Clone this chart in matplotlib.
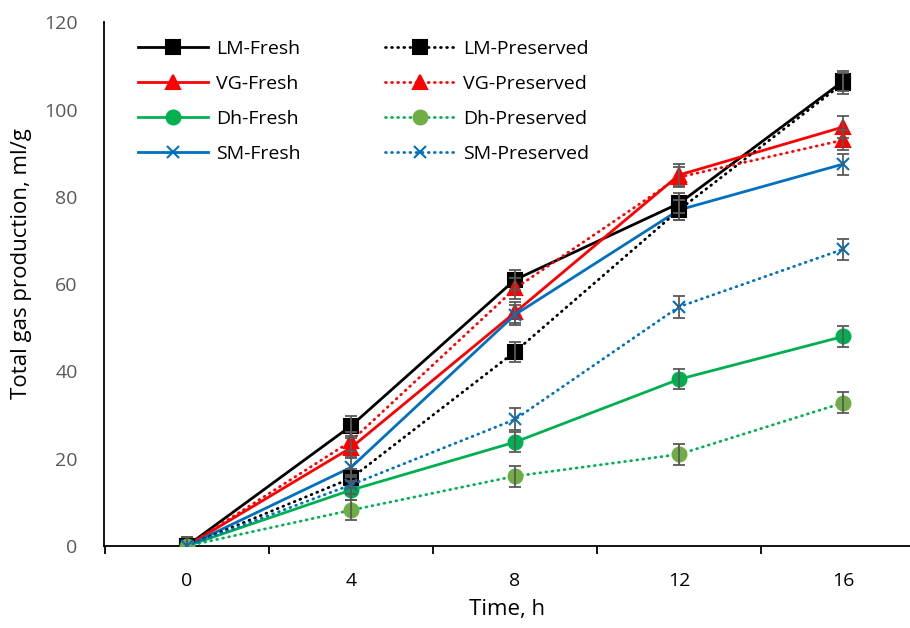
import matplotlib
matplotlib.use('Agg')
from matplotlib import pyplot as plt
from matplotlib.ticker import FixedLocator

plt.rcParams['font.family'] = ['Open Sans', 'DejaVu Sans']

hours = [0, 4, 8, 12, 16]

lm_fresh = [0, 27.5, 61, 78.5, 106.5]
vg_fresh = [0, 22.5, 53.5, 85, 96]
dh_fresh = [0, 12.8, 23.8, 38.2, 48]
sm_fresh = [0, 18, 53, 77, 87.5]

lm_pres = [0, 15.5, 44.5, 77, 106]
vg_pres = [0, 24, 59, 84.5, 93]
dh_pres = [0, 8.2, 16, 21, 32.8]
sm_pres = [0, 14, 29, 54.8, 68]

lm_fresh_err = [2, 2.3, 2.3, 2.3, 2.3]
vg_fresh_err = [2, 2.2, 2.3, 2.5, 2.5]
dh_fresh_err = [2, 2.2, 2.3, 2.3, 2.4]
sm_fresh_err = [2, 2.2, 2.3, 2.3, 2.4]
lm_pres_err = [2, 2.2, 2.3, 2.3, 2.4]
vg_pres_err = [2, 2.2, 2.3, 2.3, 2.3]
dh_pres_err = [2, 2.3, 2.4, 2.4, 2.4]
sm_pres_err = [2, 2.2, 2.5, 2.5, 2.4]

fig = plt.figure(figsize=(9.1, 6.28), dpi=100)
ax = fig.add_axes([0.1143, 0.1306, 0.8857, 0.834])

err_kw = dict(fmt='none', ecolor='#595959', elinewidth=1.3, capsize=4.5, capthick=1.3, zorder=4)
dots = (0, (0.3, 1.9))

series = [
    (lm_fresh, lm_fresh_err, 'LM-Fresh', '-', 'black', 's', 'black'),
    (vg_fresh, vg_fresh_err, 'VG-Fresh', '-', '#FF0000', '^', '#FF0000'),
    (dh_fresh, dh_fresh_err, 'Dh-Fresh', '-', '#00B050', 'o', '#00B050'),
    (sm_fresh, sm_fresh_err, 'SM-Fresh', '-', '#0070C0', 'x', '#0070C0'),
    (lm_pres, lm_pres_err, 'LM-Preserved', dots, 'black', 's', 'black'),
    (vg_pres, vg_pres_err, 'VG-Preserved', dots, '#FF0000', '^', '#FF0000'),
    (dh_pres, dh_pres_err, 'Dh-Preserved', dots, '#00B050', 'o', '#70AD47'),
    (sm_pres, sm_pres_err, 'SM-Preserved', dots, '#0070C0', 'x', '#0070C0'),
]

for vals, err, label, ls, color, marker, mcolor in series:
    ax.errorbar(hours, vals, yerr=err, **err_kw)
    ms = 9 if marker == 'x' else 10
    ax.plot(hours, vals, linestyle=ls, color=color, lw=2, marker=marker,
            markersize=ms, markerfacecolor=mcolor, markeredgecolor=mcolor,
            markeredgewidth=1.5, label=label, zorder=3,
            dash_capstyle='round')

ax.set_xlim(-2.02, 17.63)
ax.set_ylim(0, 120)

ax.set_xticks(hours)
ax.set_xticklabels([str(h) for h in hours])
ax.xaxis.set_minor_locator(FixedLocator([-2, 2, 6, 10, 14, 18]))
ax.tick_params(axis='x', which='major', length=0, pad=19, labelsize=14, labelcolor='black')
ax.tick_params(axis='x', which='minor', length=6, width=1.3, direction='out', color='black')
ax.set_yticks([0, 20, 40, 60, 80, 100, 120])
ax.tick_params(axis='y', length=0, pad=19, labelsize=14, labelcolor='#595959')

for s in ['top', 'right']:
    ax.spines[s].set_visible(False)
ax.spines['left'].set_linewidth(1.3)
ax.spines['bottom'].set_linewidth(1.3)

ax.set_xlabel('Time, h', fontsize=16, labelpad=6)
ax.set_ylabel('Total gas production, ml/g', fontsize=16)
ax.yaxis.set_label_coords(-0.089, 0.54)

ax.legend(loc='upper left', bbox_to_anchor=(0.02, 1.0), ncol=2, frameon=False,
          fontsize=14, handlelength=3.6, labelspacing=0.88, columnspacing=4.3,
          handletextpad=0.45)

fig.savefig('out.png', dpi=100)
